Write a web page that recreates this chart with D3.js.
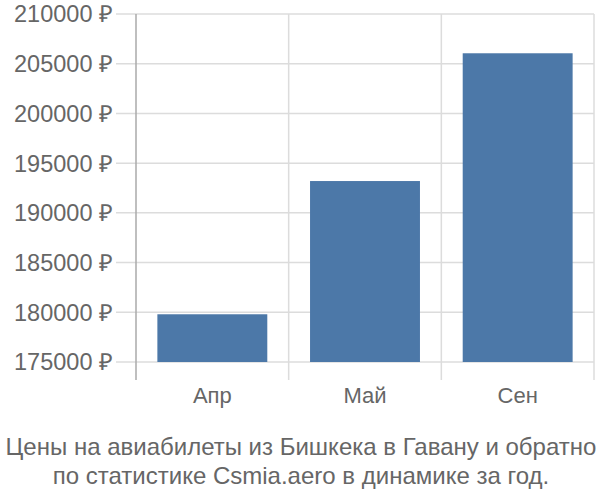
<!DOCTYPE html>
<html><head><meta charset="utf-8">
<script src="https://cdn.jsdelivr.net/npm/d3@7"></script>
<style>body{margin:0;background:#fff}svg{display:block}text{font-family:"Liberation Sans",Arial,sans-serif}</style>
</head><body>
<script>
const categories = ["Апр", "Май", "Сен"];
const values = [179800, 193200, 206050];
const yTicks = [175000, 180000, 185000, 190000, 195000, 200000, 205000, 210000];
const titleLines = ["Цены на авиабилеты из Бишкека в Гавану и обратно", "по статистике Csmia.aero в динамике за год."];

const W = 600, H = 500;
const svg = d3.select("body").append("svg").attr("width", W).attr("height", H);
const x = d3.scaleBand().domain(categories).range([136, 594]).paddingInner(0.28).paddingOuter(0.14);
const y = d3.scaleLinear().domain([175000, 210000]).range([362, 14]);

// horizontal gridlines
svg.append("g").selectAll("line").data(yTicks).join("line")
  .attr("x1", 116).attr("x2", 594)
  .attr("y1", d => y(d)).attr("y2", d => y(d))
  .attr("stroke", "#dcdcdc").attr("stroke-width", 1.5);
// vertical gridlines at band edges
const edges = [0, 1, 2, 3].map(i => 136 + i * x.step());
svg.append("g").selectAll("line").data(edges.slice(1)).join("line")
  .attr("x1", d => d).attr("x2", d => d).attr("y1", 14).attr("y2", 380)
  .attr("stroke", "#dcdcdc").attr("stroke-width", 1.5);
// y axis line
svg.append("line").attr("x1", 136).attr("x2", 136).attr("y1", 14).attr("y2", 380)
  .attr("stroke", "#aaaaaa").attr("stroke-width", 1.5);

// bars
svg.append("g").selectAll("rect").data(values).join("rect")
  .attr("x", (d, i) => x(categories[i])).attr("width", x.bandwidth())
  .attr("y", d => y(d)).attr("height", d => y(175000) - y(d))
  .attr("fill", "#4c78a8");

// y labels
svg.append("g").selectAll("text").data(yTicks).join("text")
  .attr("x", 113).attr("y", d => y(d)).attr("dy", "0.36em")
  .attr("text-anchor", "end").attr("font-size", 23.5).attr("fill", "#666")
  .text(d => d + " ₽");

// x labels
svg.append("g").selectAll("text").data(categories).join("text")
  .attr("x", d => x(d) + x.bandwidth() / 2).attr("y", 403)
  .attr("text-anchor", "middle").attr("font-size", 22).attr("fill", "#666")
  .text(d => d);

// title
svg.append("g").selectAll("text").data(titleLines).join("text")
  .attr("x", 301).attr("y", (d, i) => 455 + i * 29)
  .attr("text-anchor", "middle").attr("font-size", 24).attr("fill", "#666")
  .text(d => d);
</script>
</body></html>
